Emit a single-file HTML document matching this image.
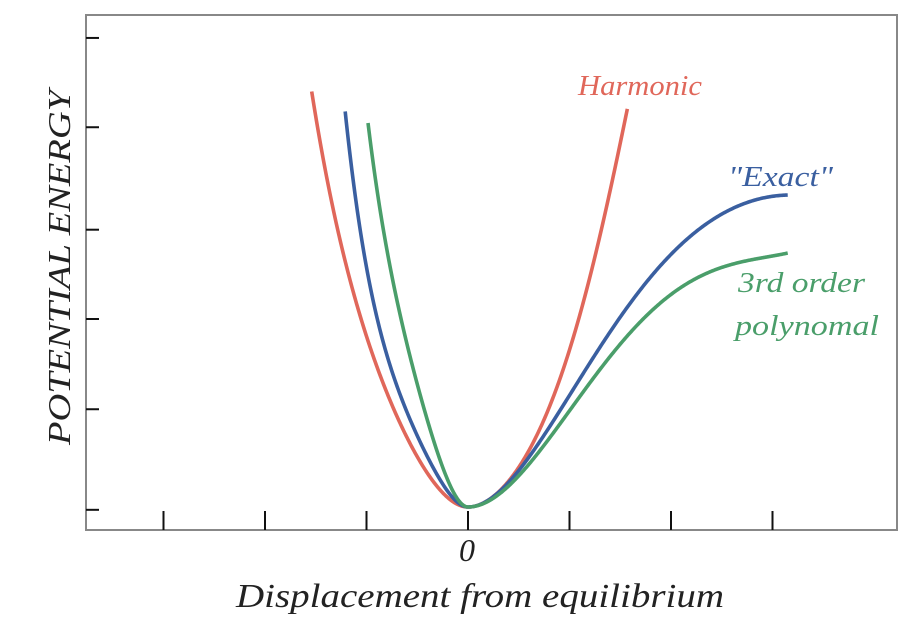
<!DOCTYPE html>
<html><head><meta charset="utf-8"><style>
body{margin:0;background:#fff}
svg{display:block;font-family:"Liberation Serif",serif}
</style></head><body>
<svg id="chart" width="908" height="622" viewBox="0 0 908 622">
<rect x="86" y="15" width="811" height="515" fill="none" stroke="#888" stroke-width="2"/>
<g id="ticks"></g>
<g id="curves"></g>
<text x="578" y="95" font-size="28" font-style="italic" fill="#e0675a" textLength="124" lengthAdjust="spacingAndGlyphs">Harmonic</text>
<text x="728" y="186" font-size="28" font-style="italic" fill="#3a5fa0" textLength="105" lengthAdjust="spacingAndGlyphs">"Exact"</text>
<text x="738" y="292" font-size="28" font-style="italic" fill="#4a9e6a" textLength="127" lengthAdjust="spacingAndGlyphs">3rd order</text>
<text x="735" y="335" font-size="28" font-style="italic" fill="#4a9e6a" textLength="144" lengthAdjust="spacingAndGlyphs">polynomal</text>
<text x="467" y="561" font-size="32" font-style="italic" text-anchor="middle" fill="#222">0</text>
<text x="236" y="607" font-size="34" font-style="italic" fill="#222" textLength="488" lengthAdjust="spacingAndGlyphs">Displacement from equilibrium</text>
<text transform="translate(70,445) rotate(-90)" font-size="32" font-style="italic" fill="#222" textLength="355" lengthAdjust="spacingAndGlyphs">POTENTIAL ENERGY</text>
</svg>
<script>
const xTicks=[-3,-2,-1,0,1,2,3];
const yTicks=[-0.03,1.04,2.0,2.95,4.04,4.99];
const harmonicX=[-1.54,-1.36,-1.23,-1.03,-0.77,-0.50,-0.25,0,0.25,0.49,0.82,1.08,1.31,1.45,1.57];
const harmonicE=[4.40,3.37,2.73,1.85,1.14,0.57,0.18,0,0.12,0.40,1.12,1.95,2.95,3.60,4.24];
const exactX=[-1.21,-1.13,-1.03,-0.90,-0.70,-0.47,-0.25,0,0.33,0.66,0.99,1.31,1.64,1.97,2.30,2.63,3.15];
const exactE=[4.22,3.45,2.73,2.02,1.32,0.68,0.21,0,0.18,0.64,1.17,1.70,2.23,2.66,2.98,3.18,3.32];
const cubicX=[-0.985,-0.90,-0.80,-0.67,-0.50,-0.34,-0.15,0,0.33,0.66,0.99,1.31,1.64,1.97,2.30,2.63,3.15];
const cubicE=[4.06,3.45,2.73,2.02,1.32,0.71,0.21,0,0.15,0.53,1.00,1.49,1.91,2.23,2.45,2.60,2.70];
const sx=u=>468+u*101.5;
const sy=e=>507-e*94;
const NS="http://www.w3.org/2000/svg";
const tg=document.getElementById('ticks');
xTicks.forEach(t=>{const l=document.createElementNS(NS,'line');


l.setAttribute('x1',sx(t));l.setAttribute('x2',sx(t));l.setAttribute('y1',511);l.setAttribute('y2',530);
l.setAttribute('stroke','#111');l.setAttribute('stroke-width',2);tg.appendChild(l);});
yTicks.forEach(t=>{const l=document.createElementNS(NS,'line');


l.setAttribute('x1',86);l.setAttribute('x2',99);l.setAttribute('y1',sy(t));l.setAttribute('y2',sy(t));
l.setAttribute('stroke','#111');l.setAttribute('stroke-width',2);tg.appendChild(l);});
// least-squares fit E = sum c_k x^p_k per branch (smooth through the read points)
function solve(A,b){const n=b.length;A=A.map((r,i)=>r.concat([b[i]]));
for(let i=0;i<n;i++){let m=i;for(let k=i+1;k<n;k++)if(Math.abs(A[k][i])>Math.abs(A[m][i]))m=k;[A[i],A[m]]=[A[m],A[i]];
for(let k=i+1;k<n;k++){const f=A[k][i]/A[i][i];for(let j=i;j<=n;j++)A[k][j]-=f*A[i][j];}}
const x=new Array(n).fill(0);for(let i=n-1;i>=0;i--){let s=A[i][n];for(let j=i+1;j<n;j++)s-=A[i][j]*x[j];x[i]=s/A[i][i];}return x;}
function fit(xs,es,pw){const n=pw.length,M=[],v=[];
for(let i=0;i<n;i++){M.push(new Array(n).fill(0));v.push(0);}
xs.forEach((x,k)=>{const r=pw.map(p=>Math.pow(x,p));for(let i=0;i<n;i++){v[i]+=r[i]*es[k];for(let j=0;j<n;j++)M[i][j]+=r[i]*r[j];}});
const c=solve(M,v);return x=>pw.reduce((s,p,i)=>s+c[i]*Math.pow(x,p),0);}
function pathFor(xs,es){
const L=[],LE=[],R=[],RE=[];xs.forEach((x,i)=>{if(x<=0){L.push(x);LE.push(es[i]);}if(x>=0){R.push(x);RE.push(es[i]);}});
const fl=fit(L,LE,[2,3,4]),fr=fit(R,RE,[2,3,4,5]);
const x0=xs[0],x1=xs[xs.length-1],N=400;let d='';
for(let k=0;k<=N;k++){const x=x0+(x1-x0)*k/N;const e=x<0?fl(x):fr(x);d+=(k?'L':'M')+sx(x).toFixed(2)+','+sy(e).toFixed(2);}return d;}
const cg=document.getElementById('curves');
function add(name,xs,es,col){const p=document.createElementNS(NS,'path');


p.setAttribute('d',pathFor(xs,es));p.setAttribute('fill','none');p.setAttribute('stroke',col);p.setAttribute('stroke-width',3.6);p.setAttribute('stroke-linejoin','round');cg.appendChild(p);}
add('harmonic-curve',harmonicX,harmonicE,'#e0675a');
add('exact-curve',exactX,exactE,'#3a5fa0');
add('third-order-curve',cubicX,cubicE,'#4a9e6a');
</script>
</body></html>
